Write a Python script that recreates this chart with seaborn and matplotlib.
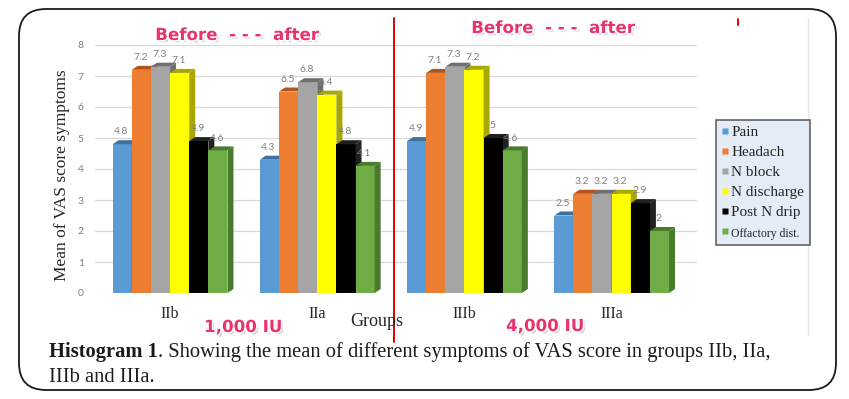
import numpy as np
import pandas as pd
import matplotlib
matplotlib.use("Agg")
import matplotlib.pyplot as plt
import matplotlib.patheffects as pe
from matplotlib.patches import Polygon, FancyBboxPatch
from matplotlib.lines import Line2D
from matplotlib.transforms import IdentityTransform
import seaborn as sns

# data
groups = ["IIb", "IIa", "IIIb", "IIIa"]
symptoms = ["Pain", "Headach", "N block", "N discharge", "Post N drip", "Offactory dist."]
pain = [4.8, 4.3, 4.9, 2.5]
headach = [7.2, 6.5, 7.1, 3.2]
n_block = [7.3, 6.8, 7.3, 3.2]
n_discharge = [7.1, 6.4, 7.2, 3.2]
post_n_drip = [4.9, 4.8, 5, 2.9]
olfactory = [4.6, 4.1, 4.6, 2]

colors = ["#5b9bd5", "#ed7d31", "#a5a5a5", "#ffff00", "#000000", "#70ad47"]
dark = ["#3f6f9c", "#b0561c", "#6f6f6f", "#a8a800", "#202020", "#4a7a2c"]

series = [pain, headach, n_block, n_discharge, post_n_drip, olfactory]
rows = []
for name, vals in zip(symptoms, series):
    for g, v in zip(groups, vals):
        rows.append({"Group": g, "Symptom": name, "Score": v})
df = pd.DataFrame(rows)

sns.set_style("white")
W, H = 849, 399
fig = plt.figure(figsize=(W / 100, H / 100), dpi=100)
ax = fig.add_axes([95 / W, 106 / H, (697 - 95) / W, (293 - 45) / H])

sns.barplot(data=df, x="Group", y="Score", hue="Symptom", hue_order=symptoms,
            palette=colors, saturation=1, width=0.78, errorbar=None,
            legend=False, ax=ax, linewidth=0)

ax.set_xlim(-0.51, 3.58)
ax.set_ylim(0, 8)
ax.set_yticks(range(9))
ax.yaxis.grid(True, color="#d9d9d9", linewidth=0.9)
ax.set_axisbelow(True)
for s in ax.spines.values():
    s.set_visible(False)
ax.tick_params(axis="y", length=0, labelsize=7.5, labelcolor="#7f7f7f", pad=8)
ax.tick_params(axis="x", length=0, labelsize=11.5, labelcolor="#262626", pad=9)
for t in ax.get_xticklabels():
    t.set_family("Liberation Serif")
for t in ax.get_yticklabels():
    t.set_family("Lato")
ax.set_xlabel("")
ax.set_ylabel("")

# fake 3D depth: right side and top face for each bar
pos = ax.get_position()
px_x = pos.width * W / (3.58 + 0.51)
px_y = pos.height * H / 8
dx, dy = 6 / px_x, 4 / px_y
for i, cont in enumerate(ax.containers):
    z = 3 + 2 * i
    for bar, val in zip(cont.patches, series[i]):
        bar.set_zorder(z)
        x0 = bar.get_x()
        x1 = x0 + bar.get_width()
        h = bar.get_height()
        side = Polygon([(x1, 0), (x1 + dx, dy), (x1 + dx, h + dy), (x1, h)],
                       closed=True, facecolor=dark[i], edgecolor="none", zorder=z + 0.5)
        top = Polygon([(x0, h), (x0 + dx, h + dy), (x1 + dx, h + dy), (x1, h)],
                      closed=True, facecolor=dark[i], edgecolor="none", zorder=z + 0.5)
        ax.add_patch(side)
        ax.add_patch(top)
        ax.text(x0 + bar.get_width() * 0.45, h + dy + 0.12, "%g" % val,
                ha="center", va="bottom", fontsize=7.5, color="#7f7f7f",
                family="Lato", zorder=20)

# legend
handles = [Line2D([], [], marker="s", linestyle="none", markersize=4,
                  markerfacecolor=c, markeredgecolor="none") for c in colors]
leg = fig.legend(handles, symptoms, loc="upper left",
                 bbox_to_anchor=(716 / W, 1 - 120 / H), frameon=True,
                 prop={"family": "Liberation Serif", "size": 11},
                 handlelength=0.5, handletextpad=0.15, labelspacing=0.42,
                 borderpad=0.35, borderaxespad=0, fancybox=False)
leg.get_frame().set_facecolor("#dce8f5")
leg.get_frame().set_edgecolor("#404040")
leg.get_frame().set_linewidth(1.2)
leg.get_texts()[-1].set_fontsize(8.5)

# axis titles
fig.text(62 / W, 1 - 175 / H, "Mean of VAS score symptoms", rotation=90,
         ha="center", va="center", fontsize=12.5, family="Liberation Serif",
         color="#262626")
fig.text(377 / W, 1 - 322 / H, "Groups", ha="center", va="center",
         fontsize=13, family="Liberation Serif", color="#262626")

# pink annotations
pink = "#e8336b"
fx = [pe.SimplePatchShadow(offset=(1.5, -1.5), shadow_rgbFace="#888888", alpha=0.5),
      pe.Stroke(linewidth=2.5, foreground="white"), pe.Normal()]
for txt, x, y in [("Before  - - -  after", 237, 35), ("Before  - - -  after", 553, 28),
                  ("1,000 IU", 243, 327), ("4,000 IU", 545, 326)]:
    fig.text(x / W, 1 - y / H, txt, ha="center", va="center", fontsize=12,
             fontweight="bold", family="DejaVu Sans", color=pink, path_effects=fx)

# separators
fig.add_artist(Line2D([394 / W, 394 / W], [1 - 18 / H, 1 - 342 / H],
                      color="#e00000", linewidth=1.4))
fig.add_artist(Line2D([738 / W, 738 / W], [1 - 19 / H, 1 - 25 / H],
                      color="#e00000", linewidth=1.4))
fig.add_artist(Line2D([808 / W, 808 / W], [1 - 18 / H, 1 - 335 / H],
                      color="#e6e6e6", linewidth=1))

# caption
cap_size = 14.8
t1 = fig.text(49 / W, 1 - 352 / H, "Histogram 1", fontsize=cap_size, va="center",
              ha="left", family="Liberation Serif", fontweight="bold", color="#1a1a1a")
fig.canvas.draw()
bb = t1.get_window_extent()
fig.text(bb.x1 / W, 1 - 352 / H,
         ". Showing the mean of different symptoms of VAS score in groups IIb, IIa,",
         fontsize=cap_size, va="center", ha="left", family="Liberation Serif",
         color="#1a1a1a")
fig.text(49 / W, 1 - 377 / H, "IIIb and IIIa.", fontsize=cap_size, va="center",
         ha="left", family="Liberation Serif", color="#1a1a1a")

# outer rounded frame (pixel coordinates)
frame = FancyBboxPatch((19, 9), 836 - 19, 390 - 9,
                       boxstyle="round,pad=0,rounding_size=27",
                       transform=IdentityTransform(), facecolor="none",
                       edgecolor="#1a1a1a", linewidth=1.3)
fig.add_artist(frame)

fig.savefig("out.png", dpi=100)
